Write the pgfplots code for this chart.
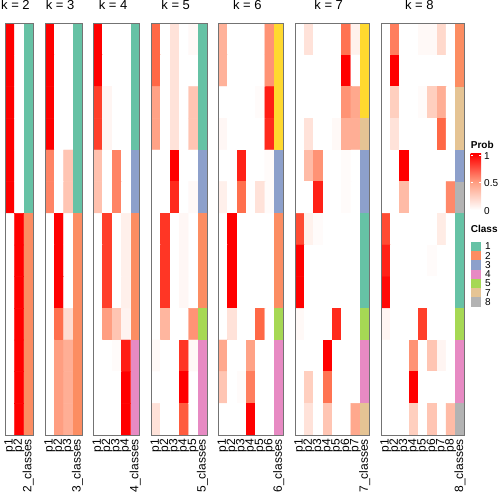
\documentclass[border=0pt]{standalone}
\usepackage{fontspec}
\setmainfont{Liberation Sans}
\usepackage{pgfplots}
\pgfplotsset{compat=1.18}
\definecolor{c1}{RGB}{102,194,165}
\definecolor{c2}{RGB}{252,141,98}
\definecolor{c3}{RGB}{141,160,203}
\definecolor{c4}{RGB}{231,138,195}
\definecolor{c5}{RGB}{166,216,84}
\definecolor{c6}{RGB}{255,217,47}
\definecolor{c7}{RGB}{229,196,148}
\definecolor{c8}{RGB}{179,179,179}
\definecolor{pmid}{RGB}{255,158,129}
\pgfplotsset{
  colormap={prob}{rgb255=(255,255,255) rgb255=(255,207,191) rgb255=(255,158,129) rgb255=(255,104,70) rgb255=(255,0,0)},
  hm/.style={scale only axis, anchor=south west, height=411.7bp,
    y dir=reverse, ymin=-0.5, ymax=12.5, ytick=\empty,
    axis on top, colormap name=prob, point meta min=0, point meta max=1,
    axis line style={draw=black!55, line width=0.75bp},
    major tick length=0pt, tick style={draw=none},
    x tick label style={rotate=90, anchor=east, inner sep=0pt, font=\fontsize{12bp}{12bp}\selectfont},
    xticklabel shift=4bp,
    title style={at={(0.5,1)}, anchor=base, yshift=8.3bp, xshift=-3.5bp, font=\fontsize{13bp}{15bp}\selectfont},
  },
  hmplot/.style={matrix plot*, mesh/cols=#1, point meta=explicit, forget plot},
}
\newcommand{\cls}[5]{\addplot[fill=#5, draw=none, forget plot] coordinates {(#1,#3) (#2,#3) (#2,#4) (#1,#4)} -- cycle;}
\begin{document}
\begin{tikzpicture}
\useasboundingbox (0,0) rectangle (504bp,504bp);
% k = 2
\begin{axis}[hm, at={(5bp,69bp)}, width=27.9bp, xmin=-0.5, xmax=2.5,
  xtick={0,1,2}, xticklabels={p1,p2,2\_classes}, title={k = 2}]
\addplot[hmplot=2] coordinates {
(0,0)[1] (1,0)[0]
(0,1)[1] (1,1)[0]
(0,2)[1] (1,2)[0]
(0,3)[1] (1,3)[0]
(0,4)[1] (1,4)[0]
(0,5)[1] (1,5)[0]
(0,6)[0] (1,6)[1]
(0,7)[0] (1,7)[1]
(0,8)[0] (1,8)[1]
(0,9)[0] (1,9)[1]
(0,10)[0] (1,10)[1]
(0,11)[0] (1,11)[1]
(0,12)[0] (1,12)[1]
};
\cls{1.5}{2.5}{-0.5}{5.5}{c1}
\cls{1.5}{2.5}{5.5}{12.5}{c2}
\end{axis}
% k = 3
\begin{axis}[hm, at={(45bp,69bp)}, width=37.2bp, xmin=-0.5, xmax=3.5,
  xtick={0,1,2,3}, xticklabels={p1,p2,p3,3\_classes}, title={k = 3}]
\addplot[hmplot=3] coordinates {
(0,0)[1] (1,0)[0] (2,0)[0]
(0,1)[1] (1,1)[0] (2,1)[0]
(0,2)[1] (1,2)[0] (2,2)[0]
(0,3)[1] (1,3)[0] (2,3)[0]
(0,4)[0.62] (1,4)[0] (2,4)[0.3]
(0,5)[0.62] (1,5)[0] (2,5)[0.3]
(0,6)[0] (1,6)[1] (2,6)[0]
(0,7)[0] (1,7)[1] (2,7)[0]
(0,8)[0] (1,8)[1] (2,8)[0]
(0,9)[0] (1,9)[0.72] (2,9)[0.18]
(0,10)[0] (1,10)[0.5] (2,10)[0.42]
(0,11)[0] (1,11)[0.5] (2,11)[0.42]
(0,12)[0] (1,12)[0.5] (2,12)[0.42]
};
\cls{2.5}{3.5}{-0.5}{5.5}{c1}
\cls{2.5}{3.5}{5.5}{12.5}{c2}
\end{axis}
% k = 4
\begin{axis}[hm, at={(93.3bp,69bp)}, width=46.5bp, xmin=-0.5, xmax=4.5,
  xtick={0,1,2,3,4}, xticklabels={p1,p2,p3,p4,4\_classes}, title={k = 4}]
\addplot[hmplot=4] coordinates {
(0,0)[1] (1,0)[0] (2,0)[0] (3,0)[0]
(0,1)[1] (1,1)[0] (2,1)[0] (3,1)[0]
(0,2)[0.85] (1,2)[0.05] (2,2)[0] (3,2)[0]
(0,3)[0.85] (1,3)[0.05] (2,3)[0] (3,3)[0]
(0,4)[0.32] (1,4)[0] (2,4)[0.62] (3,4)[0]
(0,5)[0.32] (1,5)[0] (2,5)[0.62] (3,5)[0]
(0,6)[0] (1,6)[0.85] (2,6)[0] (3,6)[0.08]
(0,7)[0] (1,7)[0.85] (2,7)[0] (3,7)[0.08]
(0,8)[0] (1,8)[0.85] (2,8)[0] (3,8)[0.08]
(0,9)[0] (1,9)[0.5] (2,9)[0.3] (3,9)[0.06]
(0,10)[0] (1,10)[0] (2,10)[0.02] (3,10)[0.93]
(0,11)[0] (1,11)[0] (2,11)[0] (3,11)[1]
(0,12)[0] (1,12)[0] (2,12)[0] (3,12)[1]
};
\cls{3.5}{4.5}{-0.5}{3.5}{c1}
\cls{3.5}{4.5}{3.5}{5.5}{c3}
\cls{3.5}{4.5}{5.5}{9.5}{c2}
\cls{3.5}{4.5}{9.5}{12.5}{c4}
\end{axis}
% k = 5
\begin{axis}[hm, at={(151.3bp,69bp)}, width=55.8bp, xmin=-0.5, xmax=5.5,
  xtick={0,1,2,3,4,5}, xticklabels={p1,p2,p3,p4,p5,5\_classes}, title={k = 5}]
\addplot[hmplot=5] coordinates {
(0,0)[0.75] (1,0)[0] (2,0)[0.15] (3,0)[0] (4,0)[0.03]
(0,1)[0.75] (1,1)[0] (2,1)[0.15] (3,1)[0] (4,1)[0]
(0,2)[0.48] (1,2)[0] (2,2)[0.15] (3,2)[0] (4,2)[0.3]
(0,3)[0.48] (1,3)[0] (2,3)[0.15] (3,3)[0] (4,3)[0.3]
(0,4)[0] (1,4)[0] (2,4)[1] (3,4)[0] (4,4)[0]
(0,5)[0] (1,5)[0] (2,5)[0.9] (3,5)[0] (4,5)[0.03]
(0,6)[0] (1,6)[0.87] (2,6)[0] (3,6)[0.04] (4,6)[0]
(0,7)[0] (1,7)[0.87] (2,7)[0] (3,7)[0.04] (4,7)[0]
(0,8)[0] (1,8)[0.87] (2,8)[0] (3,8)[0.04] (4,8)[0]
(0,9)[0] (1,9)[0.38] (2,9)[0] (3,9)[0] (4,9)[0.55]
(0,10)[0.03] (1,10)[0] (2,10)[0] (3,10)[0.87] (4,10)[0.03]
(0,11)[0] (1,11)[0] (2,11)[0] (3,11)[1] (4,11)[0]
(0,12)[0.15] (1,12)[0] (2,12)[0] (3,12)[0.78] (4,12)[0]
};
\cls{4.5}{5.5}{-0.5}{3.5}{c1}
\cls{4.5}{5.5}{3.5}{5.5}{c3}
\cls{4.5}{5.5}{5.5}{8.5}{c2}
\cls{4.5}{5.5}{8.5}{9.5}{c5}
\cls{4.5}{5.5}{9.5}{12.5}{c4}
\end{axis}
% k = 6
\begin{axis}[hm, at={(218.3bp,69bp)}, width=65.1bp, xmin=-0.5, xmax=6.5,
  xtick={0,1,2,3,4,5,6}, xticklabels={p1,p2,p3,p4,p5,p6,6\_classes}, title={k = 6}]
\addplot[hmplot=6] coordinates {
(0,0)[0.4] (1,0)[0] (2,0)[0] (3,0)[0] (4,0)[0] (5,0)[0.55]
(0,1)[0.4] (1,1)[0] (2,1)[0] (3,1)[0] (4,1)[0] (5,1)[0.55]
(0,2)[0] (1,2)[0] (2,2)[0] (3,2)[0] (4,2)[0.02] (5,2)[0.93]
(0,3)[0.04] (1,3)[0] (2,3)[0] (3,3)[0] (4,3)[0] (5,3)[0.9]
(0,4)[0] (1,4)[0] (2,4)[0.92] (3,4)[0] (4,4)[0] (5,4)[0.02]
(0,5)[0.08] (1,5)[0] (2,5)[0.72] (3,5)[0] (4,5)[0.15] (5,5)[0.02]
(0,6)[0] (1,6)[1] (2,6)[0] (3,6)[0] (4,6)[0] (5,6)[0]
(0,7)[0] (1,7)[1] (2,7)[0] (3,7)[0] (4,7)[0] (5,7)[0]
(0,8)[0] (1,8)[1] (2,8)[0] (3,8)[0] (4,8)[0] (5,8)[0]
(0,9)[0] (1,9)[0.15] (2,9)[0] (3,9)[0] (4,9)[0.75] (5,9)[0]
(0,10)[0.45] (1,10)[0] (2,10)[0] (3,10)[0.48] (4,10)[0] (5,10)[0]
(0,11)[0.3] (1,11)[0] (2,11)[0.02] (3,11)[0.65] (4,11)[0] (5,11)[0]
(0,12)[0] (1,12)[0] (2,12)[0] (3,12)[1] (4,12)[0] (5,12)[0]
};
\cls{5.5}{6.5}{-0.5}{3.5}{c6}
\cls{5.5}{6.5}{3.5}{5.5}{c3}
\cls{5.5}{6.5}{5.5}{8.5}{c2}
\cls{5.5}{6.5}{8.5}{9.5}{c5}
\cls{5.5}{6.5}{9.5}{12.5}{c4}
\end{axis}
% k = 7
\begin{axis}[hm, at={(295bp,69bp)}, width=74.4bp, xmin=-0.5, xmax=7.5,
  xtick={0,1,2,3,4,5,6,7}, xticklabels={p1,p2,p3,p4,p5,p6,p7,7\_classes}, title={k = 7}]
\addplot[hmplot=7] coordinates {
(0,0)[0] (1,0)[0.15] (2,0)[0] (3,0)[0] (4,0)[0] (5,0)[0.7] (6,0)[0.07]
(0,1)[0] (1,1)[0] (2,1)[0] (3,1)[0] (4,1)[0] (5,1)[1] (6,1)[0]
(0,2)[0] (1,2)[0] (2,2)[0] (3,2)[0] (4,2)[0] (5,2)[0.55] (6,2)[0.45]
(0,3)[0] (1,3)[0.15] (2,3)[0] (3,3)[0] (4,3)[0.03] (5,3)[0.42] (6,3)[0.42]
(0,4)[0] (1,4)[0.35] (2,4)[0.55] (3,4)[0] (4,4)[0] (5,4)[0.02] (6,4)[0]
(0,5)[0] (1,5)[0] (2,5)[0.92] (3,5)[0] (4,5)[0] (5,5)[0.02] (6,5)[0]
(0,6)[0.82] (1,6)[0.07] (2,6)[0.02] (3,6)[0] (4,6)[0] (5,6)[0] (6,6)[0]
(0,7)[1] (1,7)[0] (2,7)[0] (3,7)[0] (4,7)[0] (5,7)[0] (6,7)[0]
(0,8)[1] (1,8)[0] (2,8)[0] (3,8)[0] (4,8)[0] (5,8)[0] (6,8)[0]
(0,9)[0.03] (1,9)[0] (2,9)[0] (3,9)[0] (4,9)[0.9] (5,9)[0] (6,9)[0]
(0,10)[0] (1,10)[0] (2,10)[0] (3,10)[1] (4,10)[0] (5,10)[0] (6,10)[0]
(0,11)[0] (1,11)[0.25] (2,11)[0] (3,11)[0.7] (4,11)[0] (5,11)[0] (6,11)[0]
(0,12)[0] (1,12)[0.15] (2,12)[0] (3,12)[0.3] (4,12)[0] (5,12)[0] (6,12)[0.45]
};
\cls{6.5}{7.5}{-0.5}{2.5}{c6}
\cls{6.5}{7.5}{2.5}{3.5}{c7}
\cls{6.5}{7.5}{3.5}{5.5}{c3}
\cls{6.5}{7.5}{5.5}{8.5}{c1}
\cls{6.5}{7.5}{8.5}{9.5}{c5}
\cls{6.5}{7.5}{9.5}{11.5}{c4}
\cls{6.5}{7.5}{11.5}{12.5}{c7}
\end{axis}
% k = 8
\begin{axis}[hm, at={(381bp,69bp)}, width=83.7bp, xmin=-0.5, xmax=8.5,
  xtick={0,1,2,3,4,5,6,7,8}, xticklabels={p1,p2,p3,p4,p5,p6,p7,p8,8\_classes}, title={k = 8}]
\addplot[hmplot=8] coordinates {
(0,0)[0] (1,0)[0.65] (2,0)[0] (3,0)[0] (4,0)[0.03] (5,0)[0.03] (6,0)[0.2] (7,0)[0]
(0,1)[0] (1,1)[1] (2,1)[0] (3,1)[0] (4,1)[0] (5,1)[0] (6,1)[0] (7,1)[0]
(0,2)[0] (1,2)[0.25] (2,2)[0] (3,2)[0] (4,2)[0.02] (5,2)[0.25] (6,2)[0.42] (7,2)[0]
(0,3)[0] (1,3)[0.15] (2,3)[0] (3,3)[0] (4,3)[0] (5,3)[0] (6,3)[0.75] (7,3)[0]
(0,4)[0] (1,4)[0] (2,4)[1] (3,4)[0] (4,4)[0] (5,4)[0] (6,4)[0] (7,4)[0]
(0,5)[0] (1,5)[0] (2,5)[0.35] (3,5)[0] (4,5)[0] (5,5)[0] (6,5)[0] (7,5)[0.6]
(0,6)[0.82] (1,6)[0] (2,6)[0] (3,6)[0] (4,6)[0] (5,6)[0] (6,6)[0.1] (7,6)[0]
(0,7)[0.92] (1,7)[0] (2,7)[0] (3,7)[0] (4,7)[0] (5,7)[0.02] (6,7)[0] (7,7)[0]
(0,8)[0.98] (1,8)[0] (2,8)[0] (3,8)[0] (4,8)[0] (5,8)[0] (6,8)[0] (7,8)[0]
(0,9)[0.05] (1,9)[0] (2,9)[0] (3,9)[0] (4,9)[0.85] (5,9)[0] (6,9)[0] (7,9)[0]
(0,10)[0] (1,10)[0] (2,10)[0] (3,10)[0.55] (4,10)[0] (5,10)[0.3] (6,10)[0.05] (7,10)[0]
(0,11)[0] (1,11)[0] (2,11)[0] (3,11)[1] (4,11)[0] (5,11)[0] (6,11)[0] (7,11)[0]
(0,12)[0] (1,12)[0] (2,12)[0] (3,12)[0.25] (4,12)[0] (5,12)[0.3] (6,12)[0] (7,12)[0.35]
};
\cls{7.5}{8.5}{-0.5}{1.5}{c2}
\cls{7.5}{8.5}{1.5}{3.5}{c7}
\cls{7.5}{8.5}{3.5}{4.5}{c3}
\cls{7.5}{8.5}{4.5}{5.5}{c8}
\cls{7.5}{8.5}{5.5}{8.5}{c1}
\cls{7.5}{8.5}{8.5}{9.5}{c5}
\cls{7.5}{8.5}{9.5}{11.5}{c4}
\cls{7.5}{8.5}{11.5}{12.5}{c8}
\end{axis}
% legend
\begin{scope}[font=\fontsize{10bp}{12bp}\selectfont]
\node[anchor=base west, inner sep=0pt, font=\fontsize{10bp}{12bp}\selectfont\bfseries] at (470.7bp,355.5bp) {Prob};
\shade[top color=red, bottom color=white, middle color=pmid] (470.7bp,294bp) rectangle (481bp,350bp);
\draw[white, line width=0.6bp] (470.7bp,322bp) -- (472.5bp,322bp) (479.2bp,322bp) -- (481bp,322bp);
\draw[white, line width=0.6bp] (470.7bp,348.5bp) -- (472.5bp,348.5bp) (479.2bp,348.5bp) -- (481bp,348.5bp);
\node[anchor=west, inner sep=0pt] at (484bp,347.5bp) {1};
\node[anchor=west, inner sep=0pt] at (484bp,320.5bp) {0.5};
\node[anchor=west, inner sep=0pt] at (484bp,293bp) {0};
\node[anchor=base west, inner sep=0pt, font=\fontsize{10bp}{12bp}\selectfont\bfseries] at (470.7bp,271bp) {Class};
\foreach \c/\l [count=\i from 0] in {c1/1,c2/2,c3/3,c4/4,c5/5,c7/7,c8/8}{
  \fill[\c] (470.7bp,{262.3bp-\i*9.3bp}) rectangle (480.7bp,{262.3bp-(\i+1)*9.3bp});
  \node[anchor=west, inner sep=0pt] at (485bp,{262.3bp-(\i+0.5)*9.3bp}) {\l};
}
\end{scope}
\end{tikzpicture}
\end{document}
